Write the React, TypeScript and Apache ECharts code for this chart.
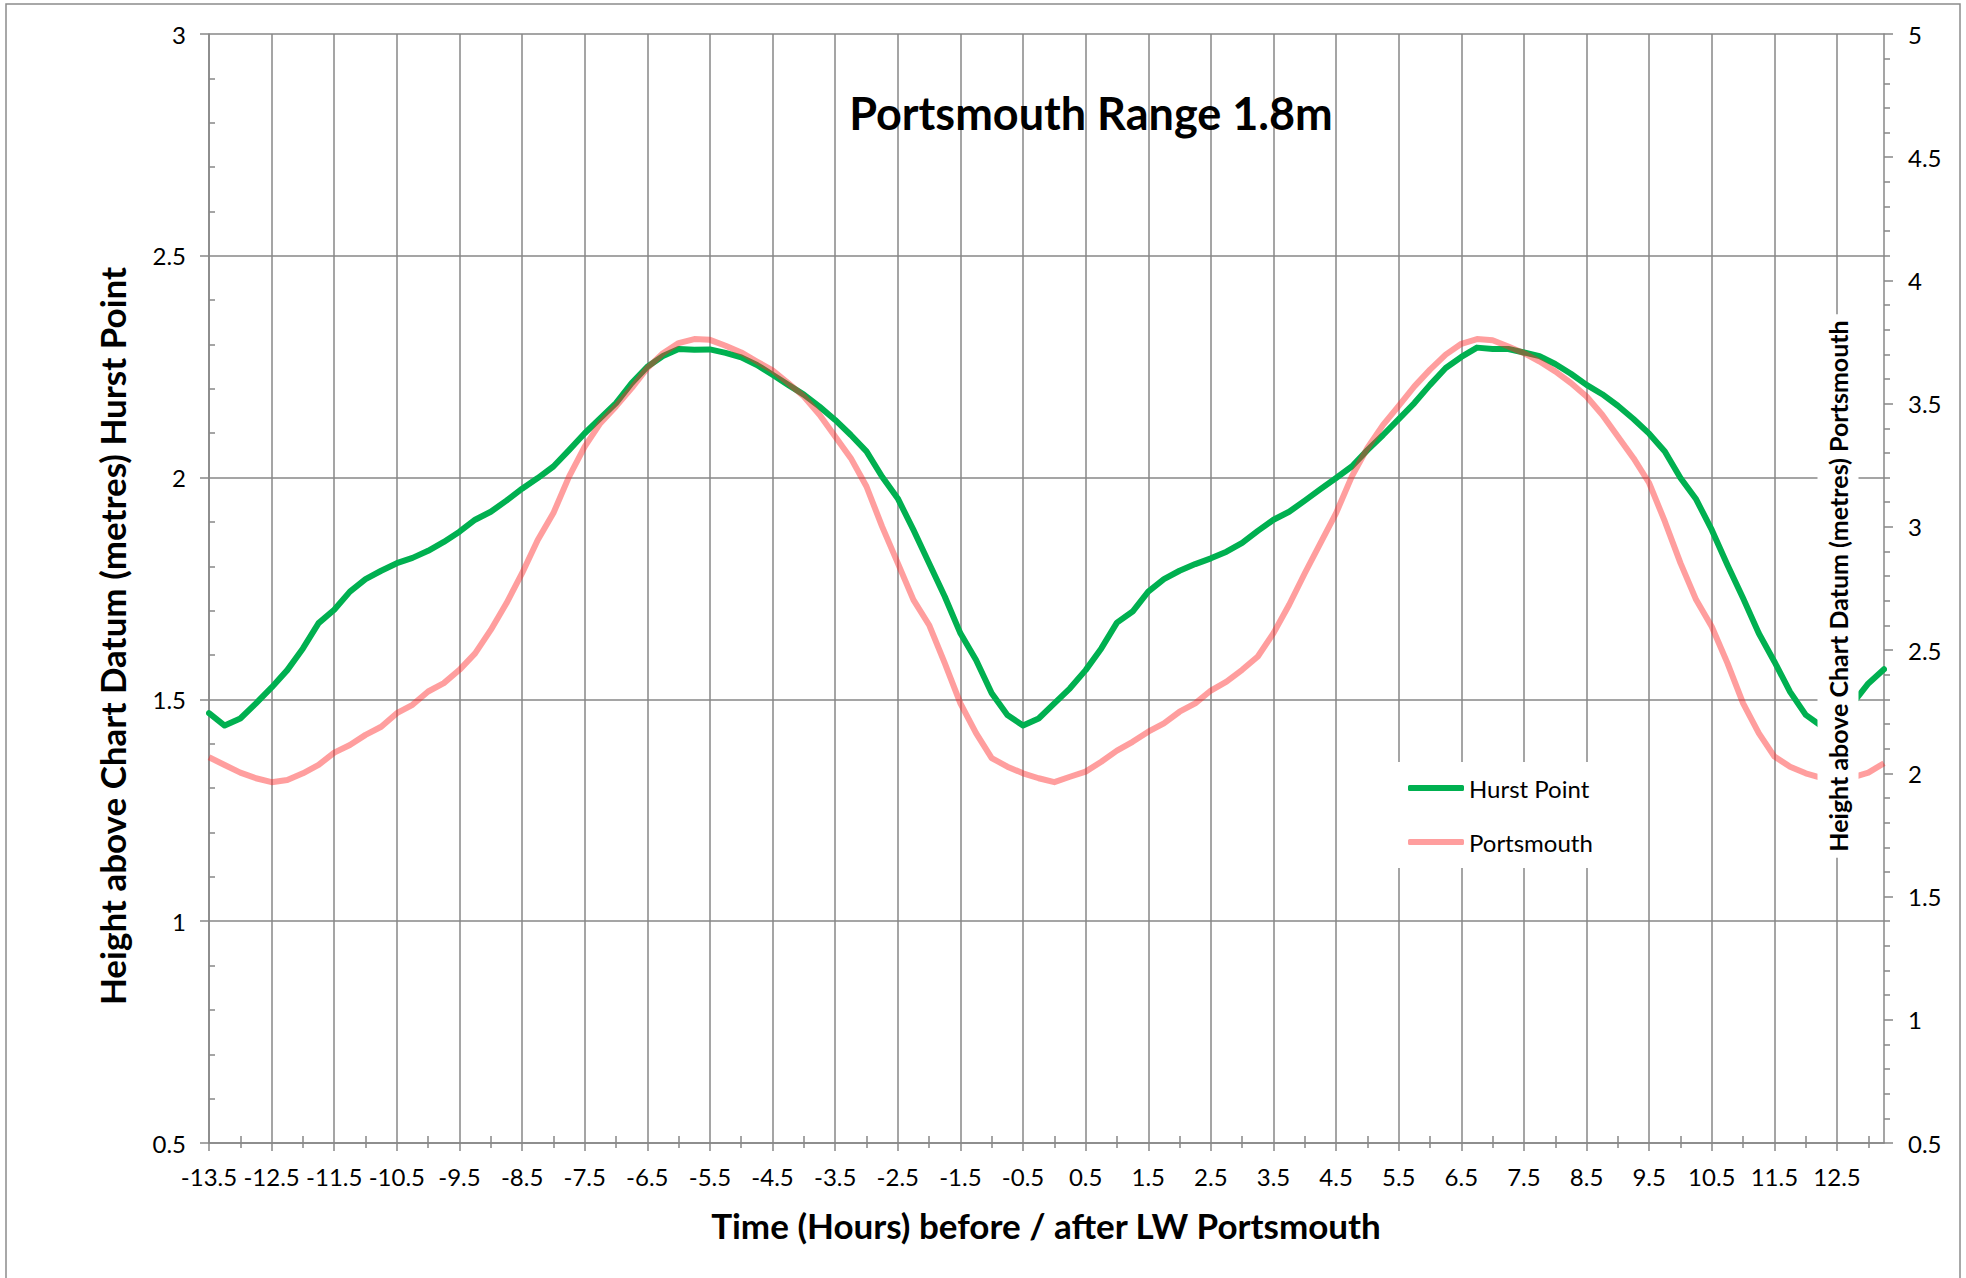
import React, { useEffect, useRef } from "react";
import * as echarts from "echarts";

// Time (hours) before / after LW Portsmouth, 15-minute steps
const hours = [
  "-13.5", "-13.25", "-13", "-12.75", "-12.5", "-12.25", "-12", "-11.75", "-11.5", "-11.25", "-11", "-10.75",
  "-10.5", "-10.25", "-10", "-9.75", "-9.5", "-9.25", "-9", "-8.75", "-8.5", "-8.25", "-8", "-7.75",
  "-7.5", "-7.25", "-7", "-6.75", "-6.5", "-6.25", "-6", "-5.75", "-5.5", "-5.25", "-5", "-4.75",
  "-4.5", "-4.25", "-4", "-3.75", "-3.5", "-3.25", "-3", "-2.75", "-2.5", "-2.25", "-2", "-1.75",
  "-1.5", "-1.25", "-1", "-0.75", "-0.5", "-0.25", "0", "0.25", "0.5", "0.75", "1", "1.25",
  "1.5", "1.75", "2", "2.25", "2.5", "2.75", "3", "3.25", "3.5", "3.75", "4", "4.25",
  "4.5", "4.75", "5", "5.25", "5.5", "5.75", "6", "6.25", "6.5", "6.75", "7", "7.25",
  "7.5", "7.75", "8", "8.25", "8.5", "8.75", "9", "9.25", "9.5", "9.75", "10", "10.25",
  "10.5", "10.75", "11", "11.25", "11.5", "11.75", "12", "12.25", "12.5", "12.75", "13", "13.25",
];

// Height above Chart Datum (m) – Hurst Point (left axis)
const hurstPoint = [
  1.469, 1.441, 1.457, 1.491, 1.527, 1.566, 1.615, 1.672, 1.702, 1.743, 1.771, 1.790,
  1.807, 1.819, 1.835, 1.855, 1.878, 1.905, 1.923, 1.948, 1.975, 1.999, 2.025, 2.062,
  2.100, 2.134, 2.168, 2.213, 2.250, 2.274, 2.290, 2.288, 2.289, 2.281, 2.271, 2.254,
  2.232, 2.209, 2.187, 2.160, 2.130, 2.096, 2.059, 2.002, 1.953, 1.882, 1.807, 1.732,
  1.649, 1.589, 1.514, 1.465, 1.441, 1.457, 1.491, 1.525, 1.566, 1.615, 1.673, 1.698,
  1.743, 1.771, 1.790, 1.805, 1.818, 1.833, 1.853, 1.880, 1.905, 1.923, 1.948, 1.974,
  1.999, 2.025, 2.062, 2.096, 2.132, 2.168, 2.209, 2.247, 2.272, 2.293, 2.290, 2.290,
  2.282, 2.274, 2.256, 2.234, 2.209, 2.188, 2.162, 2.132, 2.099, 2.059, 1.999, 1.951,
  1.882, 1.803, 1.728, 1.649, 1.585, 1.517, 1.465, 1.440, 1.457, 1.491, 1.536, 1.568,
];

// Height above Chart Datum (m) – Portsmouth (right axis)
const portsmouth = [
  2.065, 2.034, 2.003, 1.980, 1.964, 1.973, 2.000, 2.034, 2.084, 2.115, 2.156, 2.189,
  2.244, 2.278, 2.332, 2.366, 2.420, 2.487, 2.582, 2.690, 2.812, 2.947, 3.056, 3.204,
  3.326, 3.421, 3.489, 3.563, 3.644, 3.705, 3.746, 3.762, 3.759, 3.735, 3.708, 3.671,
  3.635, 3.584, 3.529, 3.455, 3.367, 3.279, 3.164, 3.001, 2.853, 2.704, 2.602, 2.447,
  2.284, 2.163, 2.062, 2.027, 2.000, 1.980, 1.964, 1.986, 2.007, 2.047, 2.092, 2.128,
  2.169, 2.203, 2.250, 2.284, 2.336, 2.372, 2.420, 2.474, 2.569, 2.684, 2.812, 2.934,
  3.056, 3.204, 3.320, 3.414, 3.491, 3.570, 3.638, 3.699, 3.743, 3.762, 3.757, 3.732,
  3.705, 3.671, 3.631, 3.584, 3.529, 3.455, 3.367, 3.279, 3.178, 3.022, 2.853, 2.704,
  2.595, 2.447, 2.284, 2.163, 2.068, 2.027, 2.000, 1.982, 1.968, 1.984, 2.003, 2.041,
];

const seriesNames = ["Hurst Point", "Portsmouth"];
const seriesColors = ["#00B050", "rgba(255,40,40,0.45)"];
const leftAxisRange = [0.5, 3];
const rightAxisRange = [0.5, 5];

const titleText = "Portsmouth Range 1.8m";
const xTitle = "Time (Hours) before / after LW Portsmouth";
const leftTitle = "Height above Chart Datum (metres) Hurst Point";
const rightTitle = "Height above Chart Datum (metres) Portsmouth";

const FONT = "Lato, 'Open Sans', sans-serif";
const GRID = "#878787";

export default function App() {
  const ref = useRef<HTMLDivElement>(null);

  useEffect(() => {
    if (!ref.current) return;
    const chart = echarts.init(ref.current, undefined, { renderer: "svg" });

    const majorX = (i: number) => i % 4 === 0;
    const minorX = (i: number) => i % 4 === 2;

    const option: any = {
      animation: false,
      backgroundColor: "#ffffff",
      textStyle: { fontFamily: FONT },
      grid: { left: 209, top: 34, width: 1675, height: 1109, containLabel: false },
      legend: {
        orient: "vertical",
        left: 1394,
        top: 762,
        padding: [14, 14, 14, 14],
        itemGap: 30,
        itemWidth: 56,
        itemHeight: 6,
        backgroundColor: "#ffffff",
        data: [
          { name: seriesNames[0], icon: "roundRect", itemStyle: { color: seriesColors[0] } },
          { name: seriesNames[1], icon: "roundRect", itemStyle: { color: seriesColors[1] } },
        ],
        textStyle: { fontFamily: FONT, fontSize: 24, color: "#000" },
      },
      xAxis: [
        {
          type: "category",
          data: hours,
          boundaryGap: false,
          position: "bottom",
          axisLine: { show: true, onZero: false, lineStyle: { color: GRID, width: 1.5 } },
          axisTick: { show: true, interval: majorX, length: 8, lineStyle: { color: GRID, width: 1.5 } },
          axisLabel: {
            interval: majorX,
            margin: 21,
            fontFamily: FONT,
            fontSize: 24,
            color: "#000",
          },
          splitLine: { show: true, interval: majorX, lineStyle: { color: GRID, width: 1.5 } },
        },
        {
          type: "category",
          data: hours,
          boundaryGap: false,
          position: "bottom",
          axisLine: { show: false, onZero: false },
          axisTick: { show: true, interval: minorX, inside: true, length: 7, lineStyle: { color: GRID, width: 1.5 } },
          axisLabel: { show: false },
          splitLine: { show: false },
        },
        {
          type: "category",
          data: hours,
          boundaryGap: false,
          position: "bottom",
          axisLine: { show: false, onZero: false },
          axisTick: { show: true, interval: minorX, inside: false, length: 5, lineStyle: { color: GRID, width: 1.5 } },
          axisLabel: { show: false },
          splitLine: { show: false },
        },
      ],
      yAxis: [
        {
          type: "value",
          position: "left",
          min: leftAxisRange[0],
          max: leftAxisRange[1],
          interval: 0.5,
          axisLine: { show: true, onZero: false, lineStyle: { color: GRID, width: 1.5 } },
          axisTick: { show: true, length: 9, lineStyle: { color: GRID, width: 1.5 } },
          minorTick: { show: false },
          axisLabel: { margin: 23, fontFamily: FONT, fontSize: 24, color: "#000" },
          splitLine: { show: true, lineStyle: { color: GRID, width: 1.5 } },
        },
        {
          type: "value",
          position: "right",
          min: rightAxisRange[0],
          max: rightAxisRange[1],
          interval: 0.5,
          axisLine: { show: true, onZero: false, lineStyle: { color: GRID, width: 1.5 } },
          axisTick: { show: true, length: 9, lineStyle: { color: GRID, width: 1.5 } },
          minorTick: { show: true, splitNumber: 5, length: 6, lineStyle: { color: GRID, width: 1.5 } },
          axisLabel: { margin: 24, fontFamily: FONT, fontSize: 24, color: "#000" },
          splitLine: { show: false },
        },
        {
          type: "value",
          position: "left",
          min: leftAxisRange[0],
          max: leftAxisRange[1],
          interval: 0.5,
          axisLine: { show: false, onZero: false },
          axisTick: { show: false, inside: true },
          minorTick: { show: true, splitNumber: 5, length: 6, lineStyle: { color: GRID, width: 1.5 } },
          axisLabel: { show: false },
          splitLine: { show: false },
        },
      ],
      series: [
        {
          name: seriesNames[0],
          type: "line",
          xAxisIndex: 0,
          yAxisIndex: 0,
          data: hurstPoint,
          symbol: "none",
          showSymbol: false,
          lineStyle: { color: seriesColors[0], width: 6, join: "round", cap: "round" },
          itemStyle: { color: seriesColors[0] },
        },
        {
          name: seriesNames[1],
          type: "line",
          xAxisIndex: 0,
          yAxisIndex: 1,
          data: portsmouth,
          symbol: "none",
          showSymbol: false,
          lineStyle: { color: seriesColors[1], width: 6, join: "round" },
          itemStyle: { color: seriesColors[1] },
        },
      ],
      graphic: [
        {
          type: "rect",
          z: 100,
          silent: true,
          shape: { x: 6, y: 4, width: 1954, height: 1300 },
          style: { fill: "none", stroke: "#8c8c8c", lineWidth: 1.5 },
        },
        {
          type: "text",
          z: 100,
          x: 1091,
          y: 113,
          style: {
            text: titleText,
            fontFamily: FONT,
            fontWeight: "bold",
            fontSize: 45,
            fill: "#000",
            align: "center",
            verticalAlign: "middle",
          },
        },
        {
          type: "text",
          z: 100,
          x: 1046,
          y: 1225,
          style: {
            text: xTitle,
            fontFamily: FONT,
            fontWeight: "bold",
            fontSize: 35,
            fill: "#000",
            align: "center",
            verticalAlign: "middle",
          },
        },
        {
          type: "text",
          z: 100,
          x: 112,
          y: 636,
          rotation: Math.PI / 2,
          style: {
            text: leftTitle,
            fontFamily: FONT,
            fontWeight: "bold",
            fontSize: 35,
            fill: "#000",
            align: "center",
            verticalAlign: "middle",
          },
        },
        {
          type: "text",
          z: 100,
          x: 1838,
          y: 586,
          rotation: Math.PI / 2,
          style: {
            text: rightTitle,
            fontFamily: FONT,
            fontWeight: "bold",
            fontSize: 25,
            fill: "#000",
            align: "center",
            verticalAlign: "middle",
            backgroundColor: "#ffffff",
            padding: [8, 6],
          },
        },
      ],
    };

    chart.setOption(option);
    return () => chart.dispose();
  }, []);

  return (
    <div
      ref={ref}
      style={{ position: "fixed", left: 0, top: 0, width: 1966, height: 1278, background: "#fff" }}
    />
  );
}
